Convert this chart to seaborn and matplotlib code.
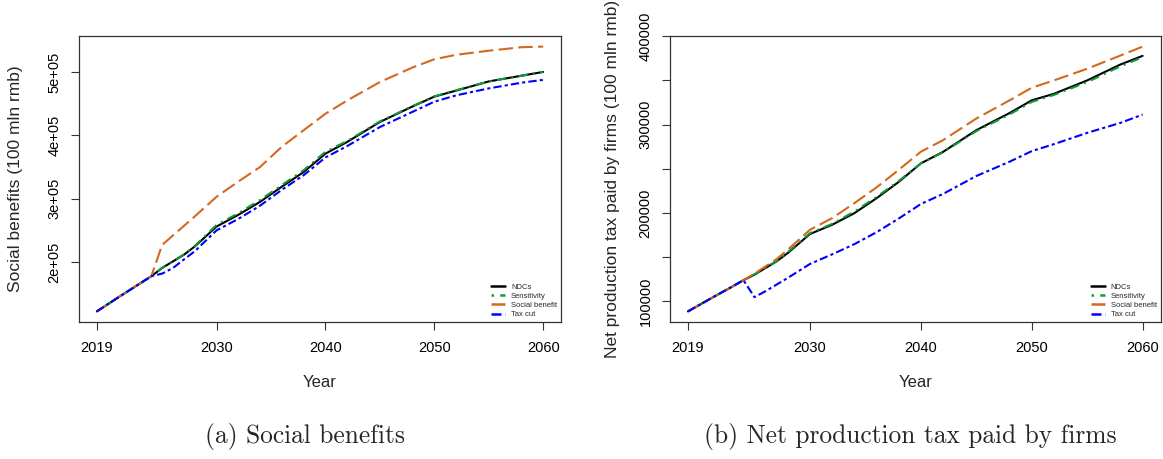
import numpy as np
import pandas as pd
import matplotlib
matplotlib.use("Agg")
import matplotlib.pyplot as plt
from matplotlib.ticker import FixedLocator, FuncFormatter
import seaborn as sns

years = [2019, 2021, 2023, 2024, 2025, 2026, 2027, 2028, 2030, 2032, 2034, 2036,
         2038, 2040, 2042, 2045, 2048, 2050, 2052, 2055, 2058, 2060]
scenarios = ["NDCs", "Sensitivity", "Social benefit", "Tax cut"]

# (a) Social benefits (100 mln rmb)
sb_ndc = [1.22e5, 1.445e5, 1.665e5, 1.775e5, 1.906e5, 2.01e5, 2.115e5, 2.245e5, 2.56e5, 2.745e5,
          2.95e5, 3.19e5, 3.42e5, 3.71e5, 3.895e5, 4.21e5, 4.455e5, 4.61e5, 4.705e5, 4.85e5, 4.94e5, 5.0e5]
sb_sens = [1.22e5, 1.445e5, 1.665e5, 1.775e5, 1.91e5, 2.015e5, 2.12e5, 2.255e5, 2.585e5, 2.77e5,
           2.98e5, 3.215e5, 3.45e5, 3.74e5, 3.91e5, 4.22e5, 4.46e5, 4.615e5, 4.71e5, 4.85e5, 4.94e5, 5.0e5]
sb_social = [1.22e5, 1.445e5, 1.665e5, 1.775e5, 2.27e5, 2.42e5, 2.57e5, 2.72e5, 3.03e5, 3.27e5,
             3.5e5, 3.82e5, 4.08e5, 4.34e5, 4.55e5, 4.84e5, 5.07e5, 5.2e5, 5.27e5, 5.335e5, 5.39e5, 5.4e5]
sb_tax = [1.22e5, 1.445e5, 1.665e5, 1.775e5, 1.817e5, 1.906e5, 2.04e5, 2.17e5, 2.5e5, 2.68e5,
          2.89e5, 3.14e5, 3.37e5, 3.65e5, 3.83e5, 4.13e5, 4.37e5, 4.53e5, 4.63e5, 4.74e5, 4.83e5, 4.875e5]

# (b) Net production tax paid by firms (100 mln rmb)
pt_ndc = [88350, 102600, 116500, 123700, 130000, 137600, 145100, 154500, 176000, 186500,
          199600, 216500, 235000, 256000, 269000, 293600, 313000, 327400, 334800, 350000, 368000, 377800]
pt_sens = [88350, 102600, 116500, 123700, 130500, 138000, 145500, 155500, 177000, 187500,
           201500, 218000, 236000, 256000, 268500, 292500, 311500, 325600, 333500, 348000, 366000, 376300]
pt_social = [88350, 102600, 116500, 123700, 131200, 139400, 147700, 158300, 180800, 194000,
             210900, 228800, 248600, 269200, 282300, 306800, 327400, 341700, 350000, 363200, 378200, 388300]
pt_tax = [88350, 102600, 116500, 123700, 104500, 111300, 118800, 126300, 142100, 153000,
          164500, 178000, 193500, 210000, 221400, 241700, 257900, 269900, 277800, 290600, 301900, 311300]

colors = {"NDCs": "#000000", "Sensitivity": "#109A3C", "Social benefit": "#D2691E", "Tax cut": "#0000FF"}
dashes = {"NDCs": "", "Sensitivity": (1, 2.5, 4.5, 2.5), "Social benefit": (7, 2.5), "Tax cut": (4, 1.5, 1.5, 1.5)}


def long_df(series):
    rows = []
    for name, vals in zip(scenarios, series):
        for y, v in zip(years, vals):
            rows.append({"Year": y, "Value": v, "Scenario": name})
    return pd.DataFrame(rows)


sns.set_style("ticks")
plt.rcParams["font.family"] = ["Liberation Sans", "DejaVu Sans"]

fig = plt.figure(figsize=(11.63, 4.59), dpi=100)
W, H = 1163, 459
ax1 = fig.add_axes([79 / W, (H - 322) / H, 482 / W, 286 / H])
ax2 = fig.add_axes([669.8 / W, (H - 322) / H, 491 / W, 286 / H])


def r_lim(vals):
    lo, hi = min(vals), max(vals)
    d = (hi - lo) * 0.04
    return lo - d, hi + d


def draw(ax, series, ylabel, yticks, fmt, ylab_x):
    df = long_df(series)
    sns.lineplot(data=df, x="Year", y="Value", hue="Scenario", style="Scenario",
                 palette=colors, dashes=dashes, hue_order=scenarios, style_order=scenarios,
                 linewidth=1.5, ax=ax, legend=True)
    allv = [v for s in series for v in s]
    ax.set_ylim(*r_lim(allv))
    ax.set_xlim(*r_lim(years))
    ax.set_xticks([2019, 2030, 2040, 2050, 2060])
    ax.yaxis.set_major_locator(FixedLocator(yticks))
    ax.yaxis.set_major_formatter(FuncFormatter(fmt))
    for s in ax.spines.values():
        s.set_visible(True)
        s.set_linewidth(0.9)
        s.set_color("#333333")
    ax.tick_params(axis="both", direction="out", length=5.5, width=0.8, labelsize=10.5,
                   pad=8, colors="#333333", labelcolor="black")
    ax.tick_params(axis="y", labelrotation=90, pad=7)
    for lbl in ax.get_yticklabels():
        lbl.set_va("center")
    ax.set_xlabel("Year", fontsize=12)
    ax.xaxis.set_label_coords(0.5, -0.187)
    ax.set_ylabel(ylabel, fontsize=12.5)
    ax.yaxis.set_label_coords(ylab_x, 0.5)
    leg = ax.legend(loc="lower right", frameon=False, fontsize=5.5, handlelength=1.8,
                    labelspacing=0.22, handletextpad=0.8, borderaxespad=0.1,
                    bbox_to_anchor=(1.0, 0.0))
    for h in leg.get_lines():
        h.set_linewidth(1.8)
    ax.grid(False)


draw(ax1, [sb_ndc, sb_sens, sb_social, sb_tax], "Social benefits (100 mln rmb)",
     [2e5, 3e5, 4e5, 5e5], lambda v, p: f"{int(round(v / 1e5))}e+05", -0.116)
draw(ax2, [pt_ndc, pt_sens, pt_social, pt_tax], "Net production tax paid by firms (100 mln rmb)",
     [100000, 150000, 200000, 250000, 300000, 350000, 400000],
     lambda v, p: f"{int(v)}" if int(v) % 100000 == 0 else "", -0.101)

fig.text(305 / W, 1 - 437 / H, "(a) Social benefits", ha="center", va="center",
         fontsize=18.3, family="cmr10")
fig.text(910 / W, 1 - 437 / H, "(b) Net production tax paid by firms", ha="center", va="center",
         fontsize=18.3, family="cmr10")

fig.savefig("out.png", dpi=100, facecolor="white")
